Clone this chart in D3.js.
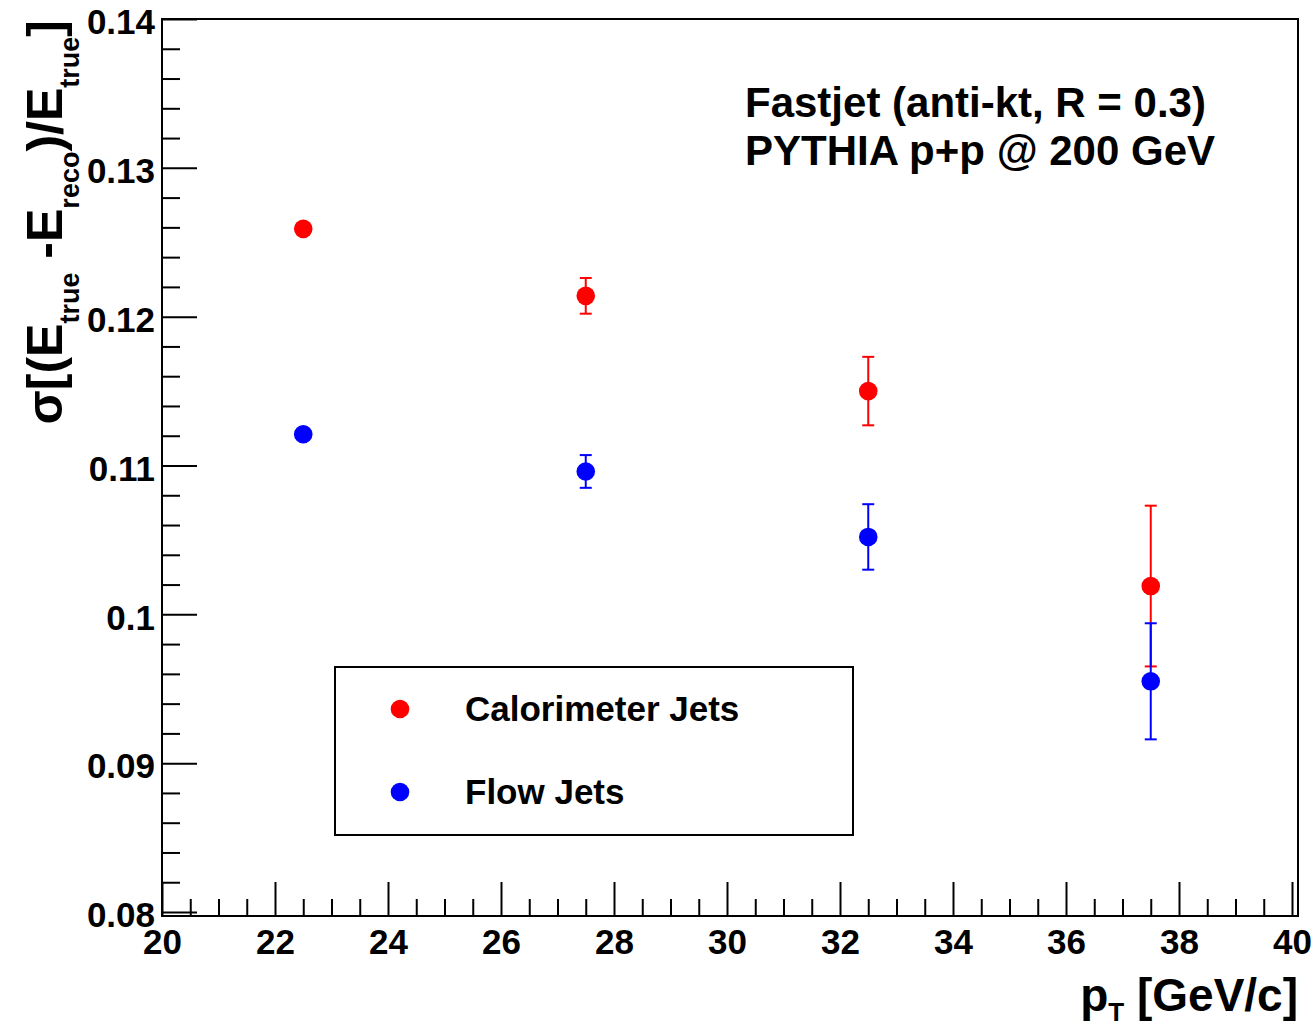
<!DOCTYPE html>
<html>
<head>
<meta charset="utf-8">
<script src="https://cdn.jsdelivr.net/npm/d3@7"></script>
<style>
  html, body { margin: 0; padding: 0; background: #fff; }
  svg text { font-family: "Liberation Sans", Arial, Helvetica, sans-serif; font-weight: bold; fill: #000; }
</style>
</head>
<body>
<div id="chart"></div>
<script>
// =======================
// Data
// =======================
const ptBins = [22.5, 27.5, 32.5, 37.5];
const caloValues = [0.1259, 0.1214, 0.1150, 0.1019];
const caloErrors = [0.0004, 0.0012, 0.0023, 0.0054];
const flowValues = [0.1121, 0.1096, 0.1052, 0.0955];
const flowErrors = [0.0003, 0.0011, 0.0022, 0.0039];

const xTicks = [20, 22, 24, 26, 28, 30, 32, 34, 36, 38, 40];
const yTicks = [0.08, 0.09, 0.1, 0.11, 0.12, 0.13, 0.14];
const yTickLabels = ["0.08", "0.09", "0.1", "0.11", "0.12", "0.13", "0.14"];

const seriesNames = ["Calorimeter Jets", "Flow Jets"];
const seriesColors = ["#ff0000", "#0000ff"];
const infoLines = ["Fastjet (anti-kt, R = 0.3)", "PYTHIA p+p @ 200 GeV"];

// =======================
// SVG + scales
// =======================
const width = 1315;
const height = 1032;

const svg = d3.select("#chart")
    .append("svg")
    .attr("width", width)
    .attr("height", height);

const frame = { left: 162, right: 1298, top: 19, bottom: 916 };

const x = d3.scaleLinear().domain([20, 40]).range([162, 1292]);
const y = d3.scaleLinear().domain([0.08, 0.14]).range([912, 19]);

// frame
svg.append("rect")
    .attr("x", frame.left)
    .attr("y", frame.top)
    .attr("width", frame.right - frame.left)
    .attr("height", frame.bottom - frame.top)
    .attr("fill", "none")
    .attr("stroke", "#000")
    .attr("stroke-width", 2);

// =======================
// Axes (ticks pointing inward)
// =======================
const xMinor = d3.range(20, 40.001, 0.5).filter(v => v % 2 !== 0);
const yMinor = d3.range(0.08, 0.14001, 0.002)
    .filter(v => Math.abs(v * 100 - Math.round(v * 100)) > 1e-6);

const xAxis = svg.append("g")
    .attr("transform", `translate(0,${frame.bottom})`)
    .call(d3.axisBottom(x).tickValues(xTicks).tickSize(-34).tickFormat(d3.format("d")));

xAxis.select(".domain").remove();
xAxis.selectAll("line").attr("stroke", "#000").attr("stroke-width", 2);
xAxis.selectAll("text")
    .attr("y", 13)
    .attr("dy", "0.71em")
    .style("font-size", "35px");

svg.append("g")
    .attr("transform", `translate(0,${frame.bottom})`)
    .call(d3.axisBottom(x).tickValues(xMinor).tickSize(-17).tickFormat(""))
    .call(g => g.select(".domain").remove())
    .selectAll("line").attr("stroke", "#000").attr("stroke-width", 2);

const yAxis = svg.append("g")
    .attr("transform", `translate(${frame.left},0)`)
    .call(d3.axisLeft(y).tickValues(yTicks).tickSize(-35)
        .tickFormat((d, i) => yTickLabels[i]));

yAxis.select(".domain").remove();
yAxis.selectAll("line").attr("stroke", "#000").attr("stroke-width", 2);
yAxis.selectAll("text")
    .attr("x", -7)
    .attr("dy", "0.42em")
    .style("font-size", "35px");

svg.append("g")
    .attr("transform", `translate(${frame.left},0)`)
    .call(d3.axisLeft(y).tickValues(yMinor).tickSize(-18).tickFormat(""))
    .call(g => g.select(".domain").remove())
    .selectAll("line").attr("stroke", "#000").attr("stroke-width", 2);

// =======================
// Axis titles
// =======================
const xTitle = svg.append("text")
    .attr("x", 1298)
    .attr("y", 1011)
    .attr("text-anchor", "end")
    .style("font-size", "46px");
xTitle.append("tspan").text("p");
xTitle.append("tspan").attr("dy", 10).style("font-size", "26px").text("T");
xTitle.append("tspan").attr("dy", -10).text(" [GeV/c]");

const yTitle = svg.append("text")
    .attr("transform", "translate(62,20) rotate(-90)")
    .attr("text-anchor", "end")
    .style("font-size", "50px");

const subShift = 17;
const titleParts = [
    ["σ[(E", false], ["true", true], [" -E", false], ["reco", true],
    [")/E", false], ["true", true], ["]", false]
];
titleParts.forEach(([txt, isSub], i) => {
    const prevSub = i > 0 && titleParts[i - 1][1];
    const ts = yTitle.append("tspan").text(txt);
    if (isSub) ts.attr("dy", subShift).style("font-size", "27px");
    else if (prevSub) ts.attr("dy", -subShift);
});

// =======================
// Data points with error bars
// =======================
const markerR = 9.3;
const capHalf = 6;

function drawSeries(values, errors, color) {
    const g = svg.append("g");
    ptBins.forEach((pt, i) => {
        const cx = x(pt);
        const cy = y(values[i]);
        const yHi = y(values[i] + errors[i]);
        const yLo = y(values[i] - errors[i]);
        if (cy - yHi > markerR) {
            g.append("line")
                .attr("x1", cx).attr("x2", cx)
                .attr("y1", yHi).attr("y2", yLo)
                .attr("stroke", color).attr("stroke-width", 2);
            [yHi, yLo].forEach(yy => {
                g.append("line")
                    .attr("x1", cx - capHalf).attr("x2", cx + capHalf)
                    .attr("y1", yy).attr("y2", yy)
                    .attr("stroke", color).attr("stroke-width", 2);
            });
        }
        g.append("circle")
            .attr("cx", cx)
            .attr("cy", cy)
            .attr("r", markerR)
            .attr("fill", color);
    });
}

drawSeries(caloValues, caloErrors, seriesColors[0]);
drawSeries(flowValues, flowErrors, seriesColors[1]);

// =======================
// Legend
// =======================
const legend = svg.append("g");
legend.append("rect")
    .attr("x", 335)
    .attr("y", 667)
    .attr("width", 518)
    .attr("height", 168)
    .attr("fill", "#fff")
    .attr("stroke", "#000")
    .attr("stroke-width", 2);

seriesNames.forEach((name, i) => {
    const ly = 709 + i * 83;
    legend.append("circle")
        .attr("cx", 400)
        .attr("cy", ly)
        .attr("r", 9.3)
        .attr("fill", seriesColors[i]);
    legend.append("text")
        .attr("x", 465)
        .attr("y", ly + 12)
        .style("font-size", "35px")
        .text(name);
});

// =======================
// Info text
// =======================
infoLines.forEach((line, i) => {
    svg.append("text")
        .attr("x", 745)
        .attr("y", 117 + i * 48)
        .style("font-size", "42px")
        .text(line);
});
</script>
</body>
</html>
